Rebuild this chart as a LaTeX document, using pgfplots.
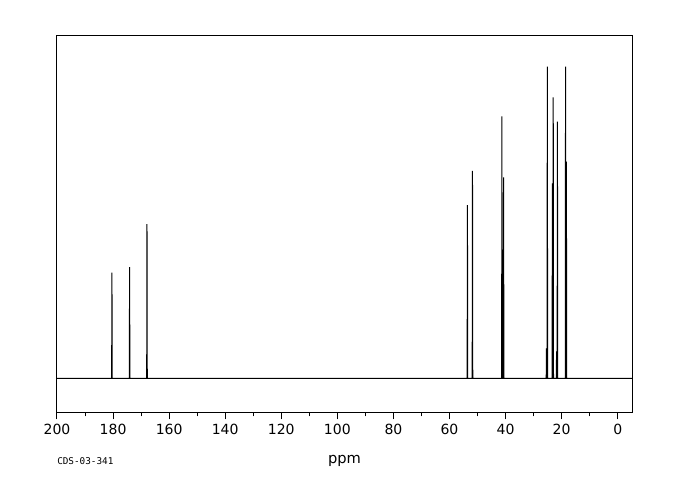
\documentclass[border=0pt]{standalone}
\usepackage{fontspec}
\setmainfont{DejaVu Sans}
\newfontfamily\monofont{DejaVu Sans Mono}
\usepackage{pgfplots}
\pgfplotsset{compat=1.18}

\begin{document}
\begin{tikzpicture}
\begin{axis}[scale only axis,width=431.25pt,height=282pt,
x dir=reverse,xmin=-5.1,xmax=200,ymin=-33.7,ymax=342.3,
axis line style={line width=0.75pt},
ytick=\empty,xtick={0,20,...,200},minor xtick={10,30,...,190},
xtick pos=bottom,tick align=outside,
major tick length=5.5pt,minor tick length=3.25pt,
every tick/.style={black,line width=0.75pt},
tick label style={font=\fontsize{10.5}{12}\selectfont},
/pgf/number format/assume math mode=true,
xlabel={ppm},
xlabel style={font=\fontsize{11}{13}\selectfont,at={(axis description cs:0.5,0)},anchor=center,yshift=-36.75pt},
clip=false]
\addplot[black,line width=0.75pt] coordinates {
(200,0)
(180.5,0) (180.4,105.6) (180.3,0)
(174.2,0) (174.1,111.3) (174.0,0)
(168.0,0) (167.9,154.3) (167.8,0)
(53.7,0) (53.6,173.3) (53.5,0)
(51.9,0) (51.8,207.3) (51.7,0)
(41.4,0) (41.3,262) (41.2,0)
(41.1,0) (41.0,28) (40.9,0)
(40.8,0) (40.7,201) (40.6,0)
(25.5,0) (25.4,30) (25.3,0)
(25.2,0) (25.1,311.6) (25.0,0)
(23.4,0) (23.3,195) (23.2,0)
(23.1,0) (23.0,281) (22.9,0)
(21.9,0) (21.8,27) (21.7,0)
(21.6,0) (21.5,256.6) (21.4,0)
(18.7,0) (18.6,311.6) (18.5,0)
(18.4,0) (18.3,216.6) (18.2,0)
(-5.1,0)
};
\coordinate (sw) at (axis description cs:0,0);
\node[anchor=west,inner sep=0pt,font=\monofont\fontsize{7}{8}\selectfont] at ([yshift=-37.1pt]sw) {CDS-03-341};
\end{axis}
\path (sw) ++(-42.75pt,-66pt) rectangle ++(510pt,375pt);
\end{tikzpicture}
\end{document}
